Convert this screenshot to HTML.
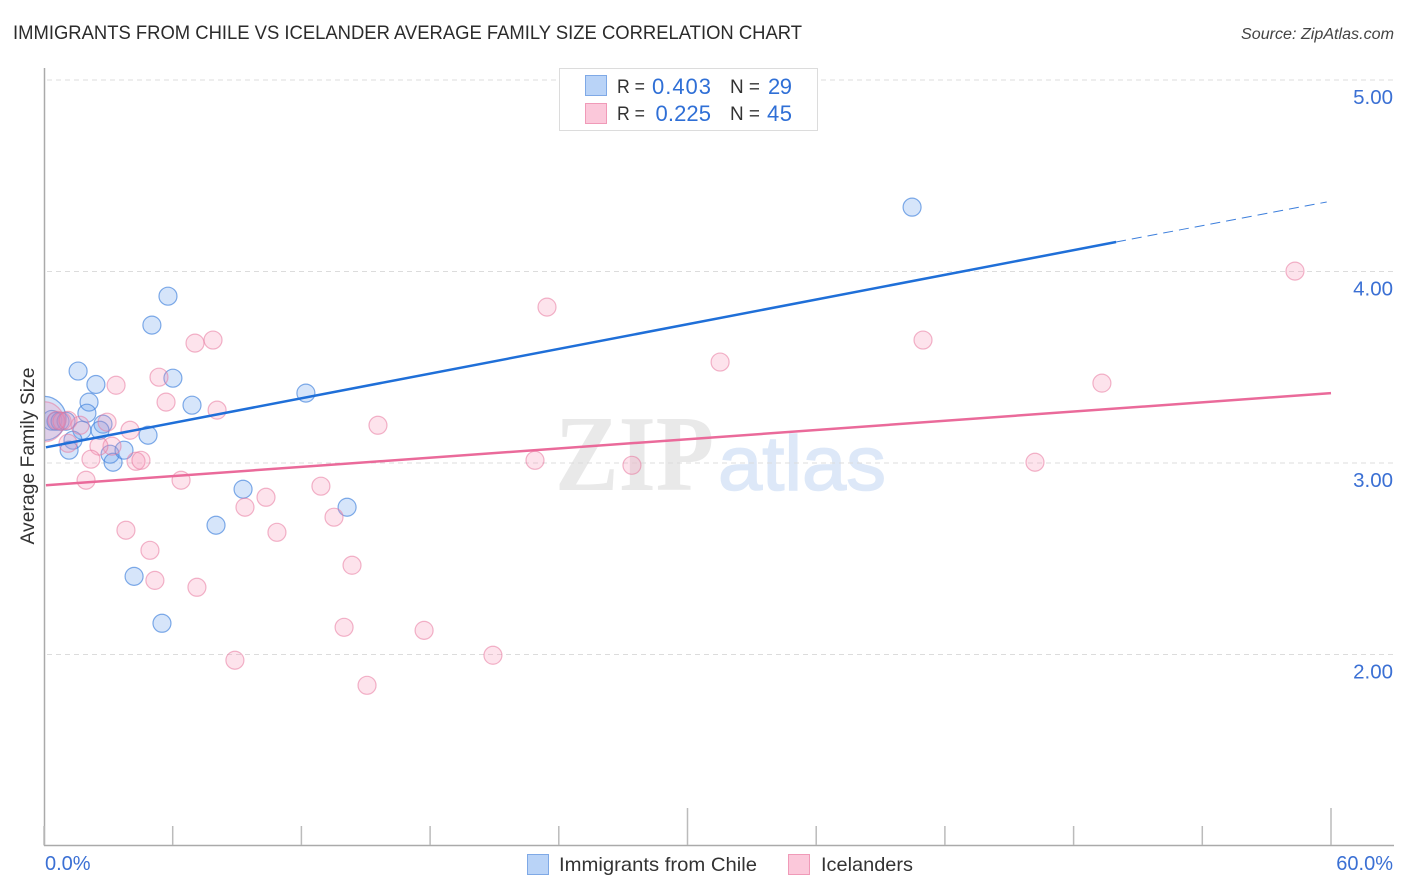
<!DOCTYPE html>
<html lang="en">
<head>
<meta charset="utf-8">
<title>Immigrants from Chile vs Icelander Average Family Size Correlation Chart</title>
<style>
html,body{margin:0;padding:0;background:#fff;width:1406px;height:892px;overflow:hidden}
svg{display:block}
text{font-family:"Liberation Sans",sans-serif}
</style>
</head>
<body>
<svg id="chart" xmlns="http://www.w3.org/2000/svg" width="1406" height="892" viewBox="0 0 1406 892">
  <defs>
    <clipPath id="plot-clip"><rect x="45" y="68" width="1349" height="777"/></clipPath>
  </defs>
  <rect width="1406" height="892" fill="#fff"/>
  <text x="13" y="39" font-size="19" fill="#2b2b2b" textLength="789" lengthAdjust="spacingAndGlyphs">IMMIGRANTS FROM CHILE VS ICELANDER AVERAGE FAMILY SIZE CORRELATION CHART</text>
  <text x="1394" y="39" font-size="15.5" font-style="italic" fill="#444" text-anchor="end" textLength="153" lengthAdjust="spacingAndGlyphs">Source: ZipAtlas.com</text>
  <g id="watermark">
    <text x="555" y="490" font-size="108" font-weight="bold" fill="#e9e9e9" textLength="159" lengthAdjust="spacingAndGlyphs" style="font-family:'Liberation Serif',serif">ZIP</text>
    <text x="718" y="490" font-size="77" fill="#dde8f8" stroke="#dde8f8" stroke-width="1.5" textLength="168" lengthAdjust="spacingAndGlyphs">atlas</text>
  </g>
  <g id="grid"></g>
  <g id="axes"></g>
  <g id="points" clip-path="url(#plot-clip)"></g>
  <g id="trends"></g>
  <text transform="translate(34,456) rotate(-90)" font-size="19.5" fill="#333" text-anchor="middle" textLength="177" lengthAdjust="spacingAndGlyphs">Average Family Size</text>

  <g id="stat-legend">
    <rect x="559.5" y="68.5" width="258" height="62" fill="#fff" stroke="#dcdcdc" stroke-width="1"/>
    <rect x="585.5" y="75.5" width="21" height="20" fill="#b9d3f7" stroke="#7fa9e6"/>
    <rect x="585.5" y="103.5" width="21" height="20" fill="#fbc8da" stroke="#f09ab8"/>
    <text x="617" y="93" font-size="19" fill="#333" textLength="28" lengthAdjust="spacingAndGlyphs">R =</text>
    <text x="652" y="94" font-size="22" fill="#2f6fd6" textLength="59">0.403</text>
    <text x="730" y="93" font-size="19" fill="#333" textLength="30" lengthAdjust="spacingAndGlyphs">N =</text>
    <text x="768" y="94" font-size="22" fill="#2f6fd6" textLength="24">29</text>
    <text x="617" y="120" font-size="19" fill="#333" textLength="28" lengthAdjust="spacingAndGlyphs">R =</text>
    <text x="655.5" y="121" font-size="22" fill="#2f6fd6" textLength="55.5">0.225</text>
    <text x="730" y="120" font-size="19" fill="#333" textLength="30" lengthAdjust="spacingAndGlyphs">N =</text>
    <text x="767" y="121" font-size="22" fill="#2f6fd6" textLength="25">45</text>
  </g>

  <g id="bottom-legend">
    <rect x="527.5" y="854.5" width="21" height="20" fill="#b9d3f7" stroke="#7fa9e6"/>
    <text x="559" y="871" font-size="19.5" fill="#333" textLength="198" lengthAdjust="spacingAndGlyphs">Immigrants from Chile</text>
    <rect x="788.5" y="854.5" width="21" height="20" fill="#fbc8da" stroke="#f09ab8"/>
    <text x="821" y="871" font-size="19.5" fill="#333" textLength="92" lengthAdjust="spacingAndGlyphs">Icelanders</text>
  </g>
</svg>
<script>
// Chart data: x in percent, y as average family size
const yTickValues = [5, 4, 3, 2];
const yTickLabels = ["5.00", "4.00", "3.00", "2.00"];
const xTickValues = [0, 6, 12, 18, 24, 30, 36, 42, 48, 54, 60];
const xEndLabels = ["0.0%", "60.0%"];

const chileX = [40.47, 5.78, 5.03, 1.59, 2.42, 6.01, 2.10, 6.90, 12.21, 2.00, 4.85, 1.77, 2.75, 2.61, 1.35, 1.17, 3.08, 3.22, 3.73, 9.28, 8.02, 14.13, 4.20, 5.50, 0.0, 0.37, 0.56, 0.75, 1.03];
const chileY = [4.336, 3.871, 3.72, 3.48, 3.41, 3.443, 3.318, 3.302, 3.365, 3.26, 3.145, 3.171, 3.203, 3.171, 3.119, 3.067, 3.046, 3.004, 3.067, 2.863, 2.675, 2.769, 2.408, 2.163, 3.233, 3.223, 3.218, 3.218, 3.218];
const chileWeight = [1, 1, 1, 1, 1, 1, 1, 1, 1, 1, 1, 1, 1, 1, 1, 1, 1, 1, 1, 1, 1, 1, 1, 1, 6, 1.2, 1, 1, 1];

const icelandX = [58.32, 23.45, 40.98, 7.88, 7.04, 31.52, 5.36, 3.36, 49.32, 5.69, 8.07, 15.57, 2.94, 1.68, 4.01, 3.17, 2.56, 1.12, 2.19, 4.29, 4.52, 22.89, 27.41, 46.2, 1.96, 6.39, 12.91, 10.35, 9.37, 13.52, 10.86, 3.82, 4.94, 14.36, 5.17, 7.13, 13.99, 17.72, 20.93, 8.9, 15.06, 0.0, 0.6, 0.84, 1.12];
const icelandY = [4.002, 3.814, 3.642, 3.642, 3.626, 3.527, 3.448, 3.406, 3.417, 3.318, 3.276, 3.197, 3.213, 3.197, 3.171, 3.088, 3.088, 3.103, 3.02, 3.009, 3.014, 3.014, 2.988, 3.004, 2.91, 2.91, 2.879, 2.821, 2.769, 2.717, 2.638, 2.649, 2.544, 2.466, 2.387, 2.351, 2.142, 2.126, 1.996, 1.97, 1.839, 3.215, 3.223, 3.218, 3.223];
const icelandWeight = [1, 1, 1, 1, 1, 1, 1, 1, 1, 1, 1, 1, 1, 1, 1, 1, 1, 1, 1, 1, 1, 1, 1, 1, 1, 1, 1, 1, 1, 1, 1, 1, 1, 1, 1, 1, 1, 1, 1, 1, 1, 5, 1, 1, 1];

const chileTrendX = [0.09, 49.98];
const chileTrendY = [3.082, 4.154];
const chileDashX = [49.98, 59.8];
const chileDashY = [4.154, 4.363];
const icelandTrendX = [0.09, 60];
const icelandTrendY = [2.884, 3.365];

const NS = "http://www.w3.org/2000/svg";
function xScale(v) { return 44 + v * 21.45; }
function yScale(v) { return 80 + (5 - v) * 191.5; }
function radius(w) { return 9 * Math.sqrt(w); }
function make(tag, attrs, parent) {
  const el = document.createElementNS(NS, tag);
  for (const k in attrs) el.setAttribute(k, attrs[k]);
  parent.appendChild(el);
  return el;
}

const gridG = document.getElementById("grid");
const axesG = document.getElementById("axes");
const pointsG = document.getElementById("points");
const trendsG = document.getElementById("trends");

yTickValues.forEach(function (v, i) {
  const line = make("line", {x1: 47, x2: 1393, y1: yScale(v), y2: yScale(v), stroke: "#dcdcdc", "stroke-width": 1, "stroke-dasharray": "5 4"}, gridG);
  
  
  const label = make("text", {x: 1393, y: yScale(v) + 24, "font-size": 20.5, fill: "#3b70d4", "text-anchor": "end"}, axesG);
  
  
  label.textContent = yTickLabels[i];
});

const yAxisLine = make("line", {x1: 44.5, x2: 44.5, y1: 68, y2: 846, stroke: "#aaa", "stroke-width": 1.5}, axesG);


const xAxisLine = make("line", {x1: 44, x2: 1394, y1: 845.5, y2: 845.5, stroke: "#aaa", "stroke-width": 1.5}, axesG);



xTickValues.forEach(function (v, i) {
  const tall = (i === 5 || i === 10);
  const tick = make("line", {x1: xScale(v), x2: xScale(v), y1: tall ? 808 : 826, y2: 845, stroke: "#bbb", "stroke-width": 1.5}, axesG);
  
  
});

const xLabelStart = make("text", {x: 45, y: 870, "font-size": 20, fill: "#3b70d4"}, axesG);


xLabelStart.textContent = xEndLabels[0];
const xLabelEnd = make("text", {x: 1393, y: 870, "font-size": 20, fill: "#3b70d4", "text-anchor": "end"}, axesG);


xLabelEnd.textContent = xEndLabels[1];

chileX.forEach(function (v, i) {
  const c = make("circle", {cx: xScale(v), cy: yScale(chileY[i]), r: radius(chileWeight[i]), fill: "#6aa3ee", "fill-opacity": 0.28, stroke: "#3d7fdc", "stroke-opacity": 0.65, "stroke-width": 1.2}, pointsG);
  
  
});
icelandX.forEach(function (v, i) {
  const c = make("circle", {cx: xScale(v), cy: yScale(icelandY[i]), r: radius(icelandWeight[i]), fill: "#f78fb3", "fill-opacity": 0.25, stroke: "#e8789f", "stroke-opacity": 0.55, "stroke-width": 1.2}, pointsG);
  
  
});

const chileTrend = make("line", {x1: xScale(chileTrendX[0]), y1: yScale(chileTrendY[0]), x2: xScale(chileTrendX[1]), y2: yScale(chileTrendY[1]), stroke: "#1f6fd8", "stroke-width": 2.5}, trendsG);


const chileDash = make("line", {x1: xScale(chileDashX[0]), y1: yScale(chileDashY[0]), x2: xScale(chileDashX[1]), y2: yScale(chileDashY[1]), stroke: "#3d7fdc", "stroke-width": 1, "stroke-dasharray": "10 6"}, trendsG);


const icelandTrend = make("line", {x1: xScale(icelandTrendX[0]), y1: yScale(icelandTrendY[0]), x2: xScale(icelandTrendX[1]), y2: yScale(icelandTrendY[1]), stroke: "#ea6a9a", "stroke-width": 2.5}, trendsG);


</script>
</body>
</html>
